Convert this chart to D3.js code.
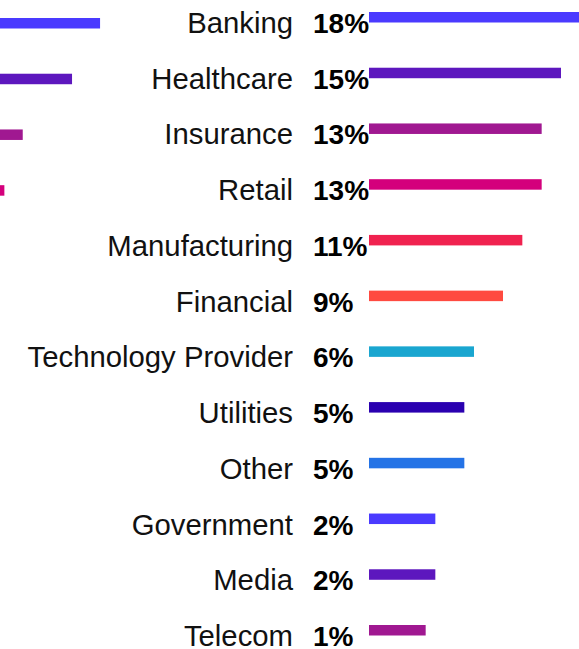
<!DOCTYPE html>
<html>
<head>
<meta charset="utf-8">
<script src="https://cdn.jsdelivr.net/npm/d3@7"></script>
<style>
  html, body { margin: 0; padding: 0; background: #fff; overflow: hidden; }
  svg { display: block; }
</style>
</head>
<body>
<div id="chart-container"></div>
<script>
// Industries and their share
const categories = ["Banking", "Healthcare", "Insurance", "Retail", "Manufacturing", "Financial",
  "Technology Provider", "Utilities", "Other", "Government", "Media", "Telecom"];
const values = [18, 15, 13, 13, 11, 9, 6, 5, 5, 2, 2, 1];
const palette = ["#4a3aff", "#5d17be", "#a01891", "#d4007c", "#f0224f", "#ff4a40",
  "#1aa6d0", "#2a00b0", "#2473e6"];
// bars of the neighbouring panel, only their ends show at the left edge
const prevValues = [23.8, 20.9, 15.8, 13.9];

const width = 579;
const height = 649;
const barStart = 369;
const barHeight = 10.5;

const svg = d3.select("#chart-container")
  .append("svg")
  .attr("width", width)
  .attr("height", height);

// baseline of each row's text
const y = d3.scalePoint().domain(categories).range([33, 646]);

// bar length scale
const x = d3.scaleLinear().domain([0, 18]).range([416, 590]);
const xPrev = d3.scaleLinear().domain([0, 18]).range([-130, 44]);

const color = (i) => palette[i % palette.length];

// Left-edge bars
svg.selectAll(".prev-bar")
  .data(prevValues)
  .join("rect")
  .attr("class", "prev-bar")
  .attr("x", -200)
  .attr("y", (d, i) => y(categories[i]) - 15)
  .attr("width", (d) => xPrev(d) + 200)
  .attr("height", barHeight)
  .style("fill", (d, i) => color(i));

const rows = svg.selectAll(".row")
  .data(categories)
  .join("g")
  .attr("class", "row")
  .attr("transform", (d) => `translate(0, ${y(d)})`);

rows.append("text")
  .attr("x", 293)
  .attr("text-anchor", "end")
  .style("font-family", "'Liberation Sans', Arial, sans-serif")
  .style("font-size", "29.3px")
  .style("fill", "#111")
  .text((d) => d);

rows.append("text")
  .attr("x", 313)
  .attr("text-anchor", "start")
  .style("font-family", "'Liberation Sans', Arial, sans-serif")
  .style("font-size", "28px")
  .style("font-weight", "bold")
  .style("fill", "#000")
  .text((d, i) => `${values[i]}%`);

rows.append("rect")
  .attr("x", barStart)
  .attr("y", -21)
  .attr("width", (d, i) => x(values[i]) - barStart)
  .attr("height", barHeight)
  .style("fill", (d, i) => color(i));
</script>
</body>
</html>
